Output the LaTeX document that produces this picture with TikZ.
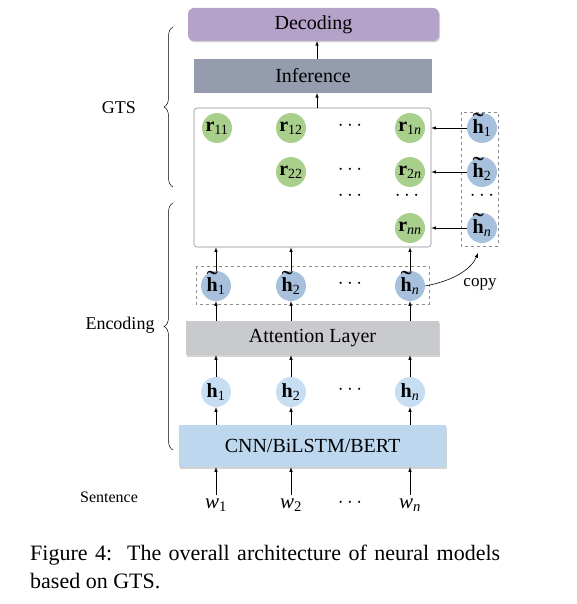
\documentclass[tikz,border=0pt]{standalone}
\usepackage{graphicx}
\usepackage{fontspec}
\setmainfont{Liberation Serif}
\usetikzlibrary{shadows,decorations.pathreplacing}
\definecolor{decodc}{HTML}{B4A2C9}
\definecolor{inferc}{HTML}{949CAD}
\definecolor{attnc}{HTML}{C9CACE}
\definecolor{encc}{HTML}{BDD7EE}
\definecolor{relc}{HTML}{A8CF8C}
\definecolor{hidc}{HTML}{C6DDF2}
\definecolor{attc}{HTML}{A7C0DC}
\definecolor{framec}{HTML}{8C8C8C}
\newcommand{\relu}[1]{\textbf{r}\textsubscript{#1}}
\newcommand{\hid}[1]{\textbf{h}\textsubscript{#1}}
\newcommand{\hidt}[1]{\ooalign{\textbf{h}\cr\hidewidth\raisebox{.1em}{\scalebox{1.7}[1.35]{\char"02DC}}\hidewidth\cr}\textsubscript{#1}}
\newcommand{\wrd}[1]{\textit{w}\textsubscript{#1}}

\begin{document}
\begin{tikzpicture}[x=1pt,y=-1pt,>=latex,
	layer/.style={inner sep=0pt, font=\fontsize{20}{24}\selectfont},
	shad/.style={drop shadow={shadow xshift=1pt,shadow yshift=-1.5pt,opacity=.35}},
	unit/.style={circle, inner sep=0pt, minimum size=30pt, font=\fontsize{20}{20}\selectfont},
	dashbox/.style={draw=framec, dashed, line width=.6pt},
	conn/.style={->, line width=.6pt},
	lab/.style={font=\fontsize{20}{20}\selectfont}]
			%%%	Help Lines
%			\draw [thin, help lines] (0,0) grid[step=50] (577,604);
			\useasboundingbox (0,0) rectangle (577,604);
			%%%	Layers
			\node[layer, shad, fill=decodc, rounded corners=6pt, minimum width=251pt, minimum height=33pt] (dec) at (313.5,24.5) {Decoding};
			\node[layer, fill=inferc, minimum width=238pt, minimum height=34pt] (inf) at (313,76) {Inference};
			\node[draw=framec, rounded corners=3pt, line width=.6pt, minimum width=237pt, minimum height=139pt] (rel) at (312.5,177.5) {};
			\node[layer, shad, fill=attnc, minimum width=253pt, minimum height=34pt] (att) at (312.5,338) {Attention Layer};
			\node[layer, shad, fill=encc, minimum width=267pt, minimum height=42pt] (enc) at (312.5,446) {CNN/BiLSTM/BERT};
			%%%	Relation table
			\node[unit, fill=relc] (r11) at (217,128) {\relu{11}};
			\node[unit, fill=relc] (r12) at (291,128) {\relu{12}};
			\node[unit, fill=relc] (r1n) at (410,128) {\relu{1\textit{n}}};
			\node[unit, fill=relc] (r22) at (291,172) {\relu{22}};
			\node[unit, fill=relc] (r2n) at (410,172) {\relu{2\textit{n}}};
			\node[unit, fill=relc] (rnn) at (410,228) {\relu{\textit{nn}}};
			\node[lab] (d1) at (350,126) {$\cdots$};
			\node[lab] (d2) at (350,170) {$\cdots$};
			\node[lab] (d3) at (350,196) {$\cdots$};
			\node[lab] (d4) at (407,196) {$\cdots$};
			%%%	Copied states
			\draw[dashbox] (461,112) rectangle (498,246);
			\node[unit, fill=attc] (c1) at (482,128) {\hidt{1}};
			\node[unit, fill=attc] (c2) at (482,172) {\hidt{2}};
			\node[lab] (cd) at (482,196) {$\cdots$};
			\node[unit, fill=attc] (cn) at (482,228) {\hidt{\textit{n}}};
			\draw[conn] (c1.west) -- (c1.west -| rel.east);
			\draw[conn] (c2.west) -- (c2.west -| rel.east);
			\draw[conn] (cn.west) -- (cn.west -| rel.east);
			%%%	Columns
			\draw[dashbox] (196,266) rectangle (429,304);
			\foreach \x/\i in {216/1,291/2,410/\textit{n}} {
				\node[unit, fill=attc] (ht\x) at (\x,286) {\hidt{\i}};
				\node[unit, fill=hidc] (h\x) at (\x,392) {\hid{\i}};
				\node[font=\fontsize{21}{24}\selectfont] (w\x) at (\x,505) {\wrd{\i}};
				\draw[conn] (w\x.north) -- (w\x.north |- enc.south);
				\draw[conn] (h\x.north |- enc.north) -- (h\x.south);
				\draw[conn] (h\x.north) -- (h\x.north |- att.south);
				\draw[conn] (ht\x.south |- att.north) -- (ht\x.south);
				\draw[conn] (ht\x.north) -- (ht\x.north |- rel.south);
			}
			\node[lab] at (350,284) {$\cdots$};
			\node[lab] at (350,390) {$\cdots$};
			\node[lab] at (350,503) {$\cdots$};
			\draw[conn] (317,108) -- (317,93);
			\draw[conn] (317,59) -- (317,41);
			%%%	Copy
			\coordinate (cpyend) at (478,253);
			\draw[conn] (ht410.east) .. controls (452,281) and (471,270) .. (cpyend);
			\node[font=\fontsize{17}{20}\selectfont] (cpy) at (480,284) {copy};
			%%%	Braces
			\draw[line width=.5pt, decorate, decoration={brace, amplitude=9pt}] (173,187) -- (173,27);
			\draw[line width=.5pt, decorate, decoration={brace, amplitude=9pt}] (173,450) -- (173,203);
			\node[font=\fontsize{18}{20}\selectfont] (gts) at (119,108) {GTS};
			\node[font=\fontsize{18}{20}\selectfont] (encl) at (120,325) {Encoding};
			\node[font=\fontsize{16}{20}\selectfont] (sent) at (109,497) {Sentence};
			%%%	Caption
			\node[anchor=north west, text width=470pt, align=justify, inner sep=0pt, font=\fontsize{22}{28}\selectfont] (cap) at (30,545) {Figure 4:\ \ The overall architecture of neural models based on GTS.};
		\end{tikzpicture}
\end{document}
